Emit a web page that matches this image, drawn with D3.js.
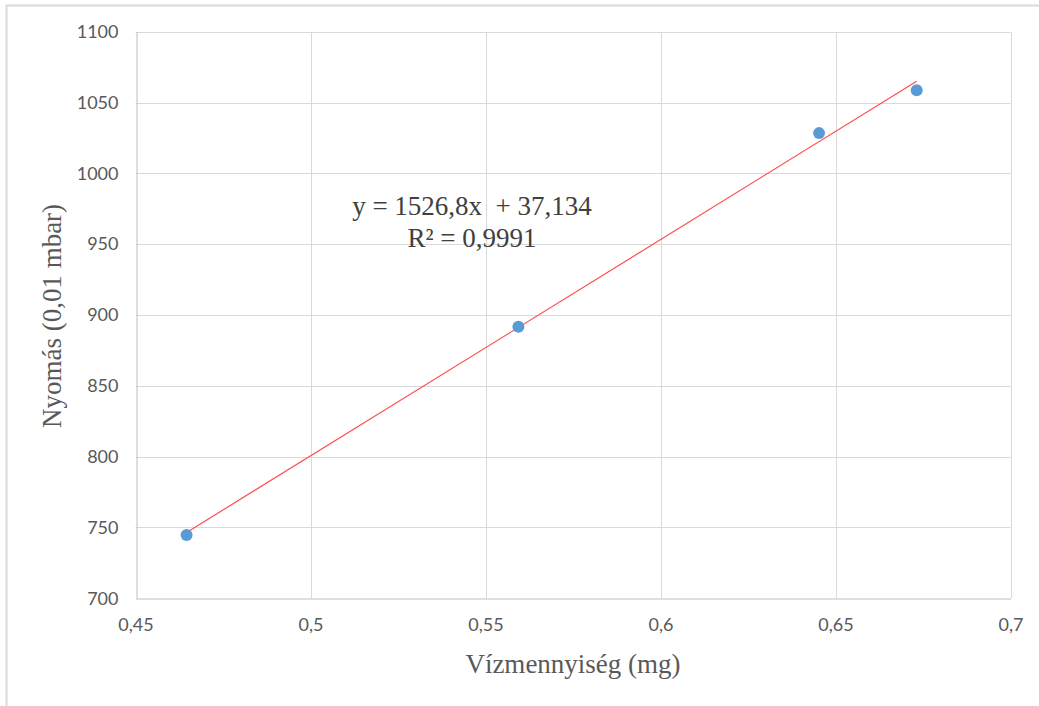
<!DOCTYPE html>
<html>
<head>
<meta charset="utf-8">
<script src="https://cdn.jsdelivr.net/npm/d3@7"></script>
<style>
  body { margin: 0; background: #fff; }
  svg { display: block; }
</style>
</head>
<body>
<svg id="chart"></svg>
<script>
// Data
const waterMg = [0.4646, 0.5594, 0.6453, 0.6732];
const pressure = [744.7, 891.7, 1028.4, 1058.7];
const xTicks = [0.45, 0.5, 0.55, 0.6, 0.65, 0.7];
const yTicks = [700, 750, 800, 850, 900, 950, 1000, 1050, 1100];
const slope = 1526.8;
const intercept = 37.134;
const eqLines = ["y = 1526,8x\u00a0 + 37,134", "R\u00b2 = 0,9991"];

const width = 1039, height = 706;
const margin = { left: 135.5, right: 1039 - 1010.5, top: 31.7, bottom: 706 - 598.3 };

const svg = d3.select("#chart")
  .attr("width", width)
  .attr("height", height);

// chart frame
svg.append("rect")
  .attr("x", 6.5).attr("y", 5.5)
  .attr("width", width + 10).attr("height", height + 10)
  .attr("fill", "none")
  .attr("stroke", "#d9d9d9")
  .attr("stroke-width", 2);

const x = d3.scaleLinear().domain([0.45, 0.7]).range([margin.left, width - margin.right]);
const y = d3.scaleLinear().domain([700, 1100]).range([height - margin.bottom, margin.top]);

const fmt = d => String(d).replace(".", ",");

// gridlines
const grid = svg.append("g");
grid.selectAll(".gx").data(xTicks.slice(1)).join("line")
  .attr("x1", d => Math.round(x(d)) + 0.5).attr("x2", d => Math.round(x(d)) + 0.5)
  .attr("y1", y(1100)).attr("y2", y(700))
  .attr("stroke", "#d9d9d9");
grid.selectAll(".gy").data(yTicks.slice(1)).join("line")
  .attr("x1", x(0.45)).attr("x2", x(0.7))
  .attr("y1", d => Math.round(y(d)) + 0.5).attr("y2", d => Math.round(y(d)) + 0.5)
  .attr("stroke", "#d9d9d9");

// axes
const xAxis = svg.append("g")
  .attr("transform", `translate(0,${Math.round(y(700)) + 0.5})`)
  .call(d3.axisBottom(x).tickValues(xTicks).tickFormat(fmt).tickSize(0).tickPadding(20));
const yAxis = svg.append("g")
  .attr("transform", `translate(${Math.round(x(0.45)) + 0.5},0)`)
  .call(d3.axisLeft(y).tickValues(yTicks).tickFormat(fmt).tickSize(0).tickPadding(18));

[xAxis, yAxis].forEach(a => {
  a.select(".domain").attr("stroke", "#bfbfbf");
  a.selectAll("text")
    .attr("fill", "#595959")
    .style("font-family", "Lato, 'Open Sans', sans-serif")
    .style("font-size", "18px");
});

// trendline
const xMin = d3.min(waterMg), xMax = d3.max(waterMg);
svg.append("line")
  .attr("x1", x(xMin)).attr("y1", y(slope * xMin + intercept))
  .attr("x2", x(xMax)).attr("y2", y(slope * xMax + intercept))
  .attr("stroke", "#ff4d4d")
  .attr("stroke-width", 1.2);

// points
svg.selectAll(".pt").data(waterMg).join("circle")
  .attr("cx", d => x(d))
  .attr("cy", (d, i) => y(pressure[i]))
  .attr("r", 6)
  .attr("fill", "#5b9bd5");

// equation label
svg.append("text")
  .attr("x", 472).attr("y", 215)
  .attr("text-anchor", "middle")
  .style("font-family", "'Liberation Serif', serif")
  .style("font-size", "27px")
  .attr("fill", "#404040")
  .selectAll("tspan").data(eqLines).join("tspan")
  .attr("x", 472)
  .attr("dy", (d, i) => i === 0 ? 0 : 32)
  .text(d => d);

// axis titles
svg.append("text")
  .attr("x", 573).attr("y", 673)
  .attr("text-anchor", "middle")
  .style("font-family", "'Liberation Serif', serif")
  .style("font-size", "27px")
  .attr("fill", "#595959")
  .text("Vízmennyiség (mg)");

svg.append("text")
  .attr("transform", "translate(61,316) rotate(-90)")
  .attr("text-anchor", "middle")
  .style("font-family", "'Liberation Serif', serif")
  .style("font-size", "27px")
  .attr("fill", "#595959")
  .text("Nyomás (0,01 mbar)");
</script>
</body>
</html>
